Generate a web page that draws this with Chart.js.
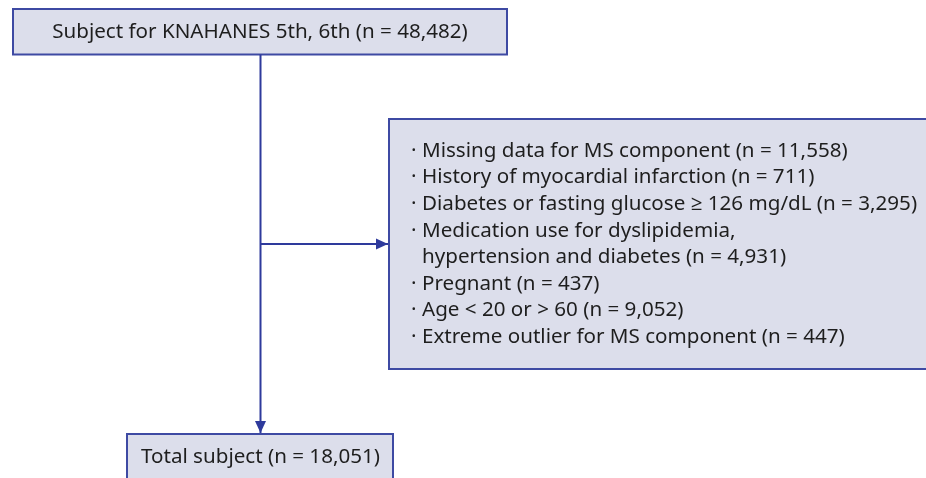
<!DOCTYPE html>
<html>
<head>
<meta charset="utf-8">
<script src="https://cdn.jsdelivr.net/npm/chart.js@4.4.1/dist/chart.umd.min.js"></script>
<style>
  html, body { margin: 0; padding: 0; background: #fff; }
  canvas { display: block; }
</style>
</head>
<body>
<canvas id="flow" width="926" height="478"></canvas>
<script>
// flow counts
const sourceLabel = 'Subject for KNAHANES 5th, 6th';
const sourceCount = 48482;
const exclusionLabels = [
  ['Missing data for MS component'],
  ['History of myocardial infarction'],
  ['Diabetes or fasting glucose \u2265 126 mg/dL'],
  ['Medication use for dyslipidemia,', 'hypertension and diabetes'],
  ['Pregnant'],
  ['Age < 20 or > 60'],
  ['Extreme outlier for MS component']
];
const exclusionCounts = [11558, 711, 3295, 4931, 437, 9052, 447];
const finalLabel = 'Total subject';
const finalCount = 18051;

// where things sit (in canvas units, mapped through the scales)
const layout = {
  top: { x0: 13, y0: 9, x1: 507, y1: 54.5 },
  side: { x0: 389, y0: 119, x1: 945, y1: 369 },
  bottom: { x0: 127, y0: 434, x1: 393, y1: 500 },
  trunkX: 260.5,
  branchY: 244,
  firstLineY: 151,
  lineStep: 26.6,
  bulletX: 411,
  textX: 422
};

const fill = '#dcdeeb';
const edge = '#3e4aa3';
const wire = '#2e3a9c';
const ink = '#1e1e1e';
const font = '"Noto Sans", "Open Sans", sans-serif';

const fmt = n => n.toLocaleString('en-US');

const flowBoxes = {
  id: 'flowBoxes',
  beforeDatasetsDraw(chart) {
    const { ctx, scales: { x, y } } = chart;
    ctx.save();
    ['top', 'side', 'bottom'].forEach(k => {
      const b = layout[k];
      const px0 = x.getPixelForValue(b.x0), px1 = x.getPixelForValue(b.x1);
      const py0 = y.getPixelForValue(b.y0), py1 = y.getPixelForValue(b.y1);
      ctx.fillStyle = fill;
      ctx.fillRect(px0, py0, px1 - px0, py1 - py0);
      ctx.strokeStyle = edge;
      ctx.lineWidth = 2;
      ctx.strokeRect(px0, py0, px1 - px0, py1 - py0);
    });
    ctx.restore();
  },
  afterDatasetsDraw(chart) {
    const { ctx, scales: { x, y } } = chart;
    ctx.save();
    // arrow heads at the end of each connector
    chart.data.datasets.forEach(ds => {
      const a = ds.data[ds.data.length - 2], b = ds.data[ds.data.length - 1];
      const ax = x.getPixelForValue(a.x), ay = y.getPixelForValue(a.y);
      const bx = x.getPixelForValue(b.x), by = y.getPixelForValue(b.y);
      const ang = Math.atan2(by - ay, bx - ax);
      const len = 12, half = 5.5;
      ctx.fillStyle = wire;
      ctx.beginPath();
      ctx.moveTo(bx, by);
      ctx.lineTo(bx - len * Math.cos(ang) + half * Math.sin(ang), by - len * Math.sin(ang) - half * Math.cos(ang));
      ctx.lineTo(bx - len * Math.cos(ang) - half * Math.sin(ang), by - len * Math.sin(ang) + half * Math.cos(ang));
      ctx.closePath();
      ctx.fill();
    });

    ctx.fillStyle = ink;
    ctx.textBaseline = 'middle';
    ctx.font = '20.6px ' + font;

    // source box
    ctx.textAlign = 'center';
    const t = layout.top;
    ctx.fillText(`${sourceLabel} (n = ${fmt(sourceCount)})`,
      x.getPixelForValue((t.x0 + t.x1) / 2), y.getPixelForValue((t.y0 + t.y1) / 2 + 0.5));

    // exclusion list
    ctx.textAlign = 'left';
    let row = 0;
    exclusionLabels.forEach((lines, i) => {
      lines.forEach((line, j) => {
        const last = j === lines.length - 1;
        const py = y.getPixelForValue(layout.firstLineY + row * layout.lineStep);
        if (j === 0) ctx.fillText('\u00b7', x.getPixelForValue(layout.bulletX), py);
        ctx.fillText(last ? `${line} (n = ${fmt(exclusionCounts[i])})` : line,
          x.getPixelForValue(layout.textX), py);
        row++;
      });
    });

    // final box
    ctx.fillText(`${finalLabel} (n = ${fmt(finalCount)})`,
      x.getPixelForValue(141), y.getPixelForValue(457));
    ctx.restore();
  }
};

new Chart(document.getElementById('flow'), {
  type: 'scatter',
  data: {
    datasets: [
      {
        data: [{ x: layout.trunkX, y: layout.top.y1 }, { x: layout.trunkX, y: layout.bottom.y0 - 1 }],
        showLine: true, borderColor: wire, borderWidth: 2, pointRadius: 0
      },
      {
        data: [{ x: layout.trunkX, y: layout.branchY }, { x: layout.side.x0 - 1, y: layout.branchY }],
        showLine: true, borderColor: wire, borderWidth: 2, pointRadius: 0
      }
    ]
  },
  options: {
    responsive: false,
    animation: false,
    layout: { padding: 0 },
    plugins: { legend: { display: false }, tooltip: { enabled: false } },
    scales: {
      x: { type: 'linear', min: 0, max: 926, display: false },
      y: { type: 'linear', min: 0, max: 478, reverse: true, display: false }
    }
  },
  plugins: [flowBoxes]
});
</script>
</body>
</html>
